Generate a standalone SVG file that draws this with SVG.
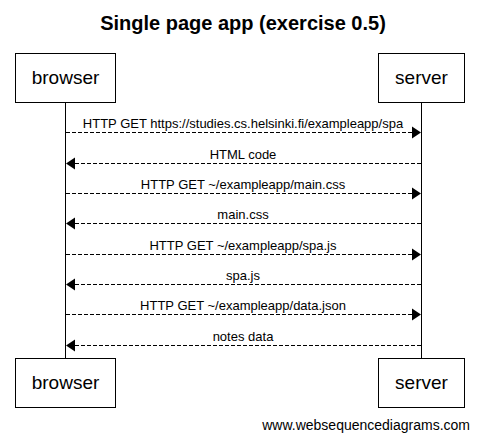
<svg xmlns="http://www.w3.org/2000/svg" width="479" height="442" viewBox="0 0 479 442">
<style>
text{font-family:"Liberation Sans",Arial,Helvetica,sans-serif;fill:#000}
.title{font-size:20px;font-weight:bold;text-anchor:middle}
.actor rect{fill:#fff;stroke:#000;stroke-width:1}
.actor text{font-size:19px;text-anchor:middle}
.life{stroke:#000;stroke-width:1}
.msg{stroke:#000;stroke-width:1;stroke-dasharray:4 2;fill:none}
.lbl{font-size:13px;text-anchor:middle}
.head{fill:#000}
.wm{font-size:14px;text-anchor:end}
</style>
<rect width="479" height="442" fill="#fff"/>
<text class="title" x="243" y="30">Single page app (exercise 0.5)</text>
<g id="lifelines">
<line class="life" x1="65.5" y1="102" x2="65.5" y2="358"/>
<line class="life" x1="421.5" y1="102" x2="421.5" y2="358"/>
</g>
<g id="browser-top" class="actor"><rect x="15.5" y="53.5" width="100" height="49"/><text x="65.5" y="84">browser</text></g>
<g id="server-top" class="actor"><rect x="378.5" y="53.5" width="86" height="49"/><text x="421.5" y="84">server</text></g>
<g id="browser-bottom" class="actor"><rect x="15.5" y="358.5" width="100" height="49"/><text x="65.5" y="389">browser</text></g>
<g id="server-bottom" class="actor"><rect x="378.5" y="358.5" width="86" height="49"/><text x="421.5" y="389">server</text></g>
<g id="connectors">
<line class="msg" x1="66" y1="132.5" x2="412" y2="132.5"/><polygon class="head" points="421,132.5 412,126.5 412,138.5"/>
<text class="lbl" x="243" y="128">HTTP GET https://studies.cs.helsinki.fi/exampleapp/spa</text>
<line class="msg" x1="421" y1="163.5" x2="75" y2="163.5"/><polygon class="head" points="66,163.5 75,157.5 75,169.5"/>
<text class="lbl" x="243" y="159">HTML code</text>
<line class="msg" x1="66" y1="193.5" x2="412" y2="193.5"/><polygon class="head" points="421,193.5 412,187.5 412,199.5"/>
<text class="lbl" x="243" y="189">HTTP GET ~/exampleapp/main.css</text>
<line class="msg" x1="421" y1="223.5" x2="75" y2="223.5"/><polygon class="head" points="66,223.5 75,217.5 75,229.5"/>
<text class="lbl" x="243" y="219">main.css</text>
<line class="msg" x1="66" y1="254.5" x2="412" y2="254.5"/><polygon class="head" points="421,254.5 412,248.5 412,260.5"/>
<text class="lbl" x="243" y="250">HTTP GET ~/exampleapp/spa.js</text>
<line class="msg" x1="421" y1="284.5" x2="75" y2="284.5"/><polygon class="head" points="66,284.5 75,278.5 75,290.5"/>
<text class="lbl" x="243" y="280">spa.js</text>
<line class="msg" x1="66" y1="314.5" x2="412" y2="314.5"/><polygon class="head" points="421,314.5 412,308.5 412,320.5"/>
<text class="lbl" x="243" y="310">HTTP GET ~/exampleapp/data.json</text>
<line class="msg" x1="421" y1="345.5" x2="75" y2="345.5"/><polygon class="head" points="66,345.5 75,339.5 75,351.5"/>
<text class="lbl" x="243" y="341">notes data</text>
</g>
<text class="wm" x="470" y="430">www.websequencediagrams.com</text>
</svg>
